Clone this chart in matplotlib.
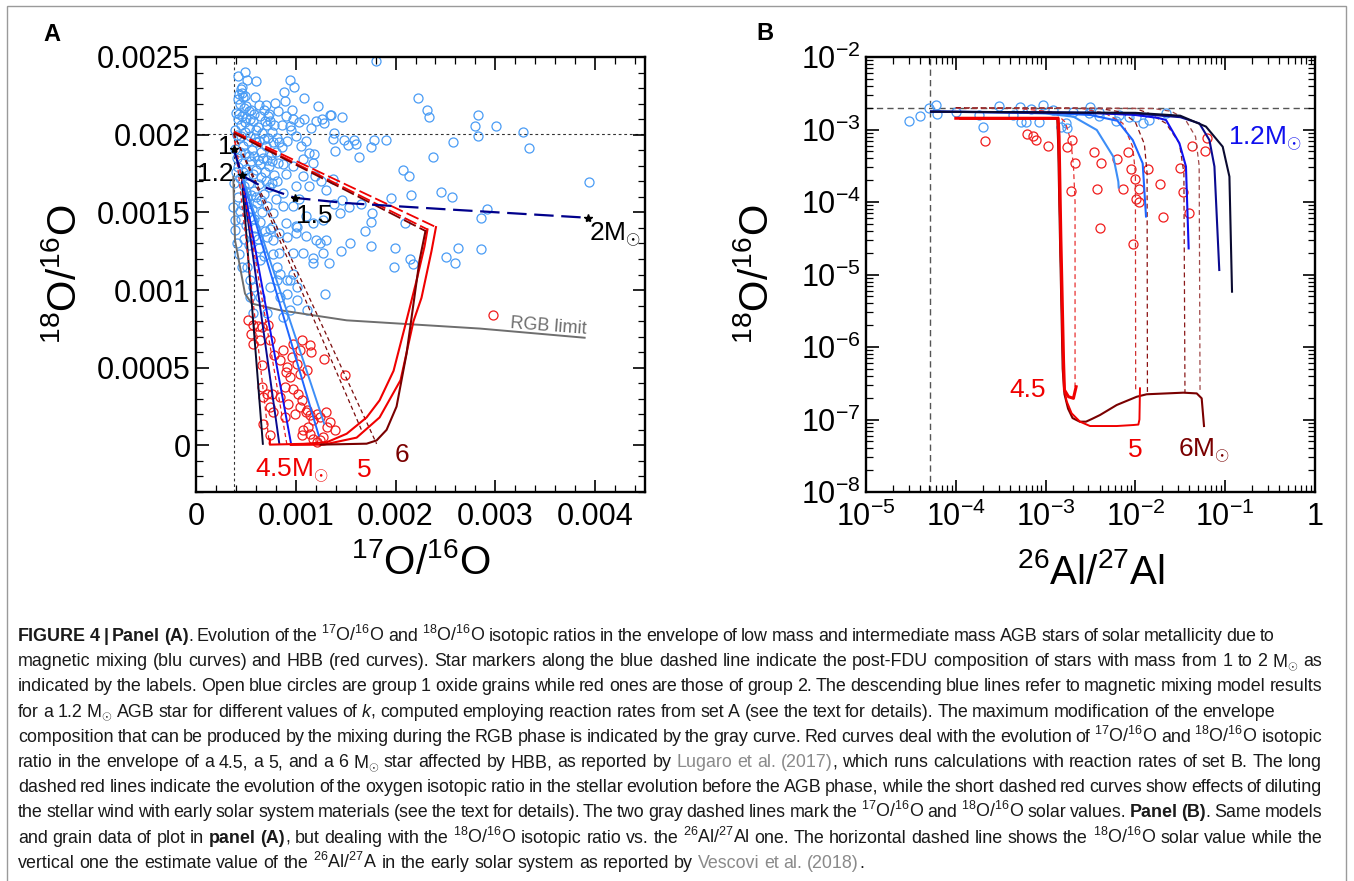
import numpy as np
import matplotlib
matplotlib.use("Agg")
import matplotlib.pyplot as plt
from matplotlib.ticker import MultipleLocator, FuncFormatter, LogLocator, NullFormatter
from matplotlib.patches import Rectangle

plt.rcParams['font.family'] = ['Liberation Sans', 'DejaVu Sans']
plt.rcParams['mathtext.fontset'] = 'custom'
plt.rcParams['mathtext.rm'] = 'Liberation Sans'
plt.rcParams['mathtext.it'] = 'Liberation Sans:italic'
plt.rcParams['mathtext.bf'] = 'Liberation Sans:bold'
plt.rcParams['lines.scale_dashes'] = False

# ---------------- panel A data (17O/16O, 18O/16O in units of 1e-4) ----------------
g1_a_x = [22.28, 23.18, 23.35, 14.66, 13.53, 28.26, 27.96, 28.26, 30.07, 32.74, 33.37, 13.86, 13.73,
          14.83, 15.27, 15.80, 16.07, 17.54, 17.87, 19.01, 13.96, 16.37, 25.76, 23.79, 20.75, 21.35,
          39.36, 21.55, 24.59, 25.66, 19.51, 29.16, 28.56, 14.66, 13.86, 15.36, 16.54, 14.46, 17.67,
          17.54, 16.97, 20.95, 14.53, 15.46, 17.57, 19.97, 19.87, 21.45, 21.71, 25.06, 26.26, 25.96,
          28.56, 18.0,
          4.88, 5.98, 9.45, 9.79, 8.85, 10.86, 7.05, 7.95, 8.92, 12.2, 13.43, 12.63, 12.86, 9.69, 9.42,
          7.22, 4.48, 4.58, 4.68, 4.94, 4.18, 5.01, 5.34,
          11.02, 10.52, 11.36, 11.86, 10.69, 11.69, 9.69, 8.69, 9.02, 10.69, 11.93, 12.53, 11.36, 13.03,
          13.7, 8.69, 8.02, 10.02, 7.69, 8.69, 9.69, 10.35, 11.02, 11.69, 12.7, 9.02, 10.02, 8.35, 7.69,
          10.02, 11.02, 12.03, 13.03, 8.35, 9.69, 10.69, 11.69, 13.36, 12.7,
          3.84, 3.74, 3.91, 3.91, 4.08, 4.34, 4.58, 5.08, 5.41, 5.74, 5.41, 6.41, 7.08, 7.75, 8.09, 8.42,
          9.09, 9.75, 10.09, 8.42, 9.09, 9.42, 8.75, 10.09, 11.09, 11.76, 12.43, 12.93, 9.42, 8.09, 7.42,
          6.41, 7.08, 5.74, 7.59, 9.09, 10.09,
          4.2, 4.5, 4.9, 5.3, 5.7, 6.2, 6.6, 7.1, 7.6, 8.1, 4.3, 4.7, 5.2, 5.6, 6.0, 6.5, 7.0, 7.5, 8.0,
          8.6, 9.1, 4.1, 4.6, 5.0, 5.5, 6.0, 6.4, 6.9, 7.3, 7.8, 4.4, 4.8, 5.3, 5.8, 6.3, 6.8, 7.3, 4.2,
          4.7, 5.1, 5.6, 6.1, 6.6, 7.1, 4.5, 5.0, 5.4, 5.9, 6.4, 6.9, 4.8, 5.3, 5.8, 6.3, 6.8, 3.9, 3.9,
          4.0, 8.6, 9.0, 9.5, 10.0, 10.3, 7.3, 6.8, 6.3, 5.5, 4.8, 4.4, 5.9, 4.3, 4.6, 5.1, 4.2, 8.2, 9.6,
          10.8, 11.5, 12.0,
          4.0, 4.3, 4.6, 5.0, 5.4, 5.8, 6.0, 6.4, 6.9, 7.4, 7.8, 4.1, 4.5, 4.9, 5.4, 5.9, 6.3, 6.8, 7.2,
          7.7, 8.3, 4.4, 4.9, 5.3, 5.8, 6.2, 6.7, 7.1, 7.6, 8.2, 4.2, 4.7, 5.2, 5.7, 6.5, 7.0, 7.6, 8.1,
          5.0, 5.5, 6.0, 6.5, 4.4, 5.2, 5.8, 6.2, 7.4]
g1_a_y = [22.34, 21.56, 21.13, 21.13, 21.24, 21.24, 20.53, 19.91, 20.53, 20.15, 19.14, 20.12, 19.70,
          19.65, 19.33, 19.65, 19.41, 19.22, 19.65, 19.65, 18.92, 18.54, 19.52, 18.54, 17.74, 17.33,
          16.93, 16.13, 16.32, 16.02, 15.93, 15.21, 14.61, 15.77, 15.55, 15.34, 15.55, 14.95, 14.95,
          14.41, 13.83, 14.32, 12.54, 13.03, 12.82, 12.71, 11.51, 12.00, 11.70, 12.11, 12.71, 11.73,
          12.63, 24.75,
          24.03, 23.45, 23.52, 23.05, 22.74, 22.34, 21.93, 22.04, 22.18, 21.84, 21.26, 20.99, 20.77,
          20.99, 20.55, 21.2, 22.96, 22.7, 22.42, 22.49, 22.27, 21.84, 21.52,
          19.59, 19.27, 18.79, 18.73, 18.41, 18.19, 17.98, 18.09, 17.44, 17.33, 17.33, 17.01, 16.69,
          16.47, 17.12, 16.26, 15.83, 16.69, 14.97, 15.4, 15.4, 15.83, 14.76, 14.32, 14.54, 14.32, 14.11,
          13.68, 13.25, 13.68, 13.47, 13.25, 13.25, 12.39, 12.39, 12.39, 12.07, 11.75, 12.39,
          16.86, 15.35, 14.5, 13.85, 13.0, 12.35, 11.49, 11.49, 10.63, 10.2, 9.56, 11.92, 13.42, 12.35,
          11.49, 11.06, 10.63, 11.06, 10.2, 9.56, 9.77, 8.7, 8.27, 9.34, 8.7, 11.71, 13.0, 9.77, 10.63,
          10.63, 10.2, 9.56, 8.49, 8.49, 14.07, 13.42, 14.07,
          21.0, 20.6, 20.8, 20.4, 20.9, 20.5, 20.1, 20.6, 20.2, 19.8, 19.8, 19.3, 19.6, 19.0, 19.5, 18.9,
          19.3, 18.7, 18.9, 19.2, 19.6, 18.5, 18.2, 17.8, 18.3, 17.7, 18.1, 17.6, 18.0, 17.4, 17.2, 16.7,
          16.9, 16.4, 16.8, 16.2, 16.6, 16.0, 15.5, 15.9, 15.2, 15.6, 15.0, 15.4, 14.6, 14.2, 14.7, 14.0,
          14.4, 13.8, 13.3, 12.9, 13.5, 12.7, 12.2, 20.3, 19.1, 17.6, 20.6, 21.2, 20.3, 19.9, 20.8, 21.3,
          21.6, 21.9, 21.6, 21.7, 22.0, 22.4, 22.6, 23.1, 23.5, 23.8, 21.5, 21.6, 21.0, 20.4, 20.9,
          21.4, 21.3, 21.2, 21.1, 21.0, 21.3, 20.3, 21.2, 20.9, 20.9, 20.6, 20.0, 19.9, 20.2, 19.9,
          19.8, 19.6, 19.7, 19.8, 19.5, 19.5, 18.9, 18.8, 18.6, 18.6, 18.4, 18.5, 18.4, 18.3, 18.2,
          17.9, 17.6, 17.4, 17.5, 17.3, 17.0, 16.9, 17.0, 16.3, 16.1, 16.0, 15.8, 15.1, 15.0, 14.6,
          13.3, 13.9]

g2_a_x = [5.24, 5.74, 5.51, 6.18, 6.58, 7.25, 6.41, 7.42, 7.82, 6.58, 6.58, 6.68, 7.08, 7.58, 7.42,
          7.75, 6.68, 7.42, 8.42, 8.75, 9.75, 10.42, 11.43, 11.49, 10.59, 9.59, 10.09, 9.09, 9.02, 9.42,
          10.42, 11.09, 8.42, 8.92, 9.75, 10.25, 10.59, 10.42, 11.09, 11.43, 12.09, 12.43, 11.76, 11.26,
          10.75, 10.59, 11.43, 11.76, 12.43, 12.09, 12.76, 13.1, 13.03, 13.43, 13.93, 12.83, 14.93, 9.25,
          9.92, 8.92, 11.02, 5.74, 29.8]
g2_a_y = [8.1, 7.73, 7.15, 7.69, 7.62, 7.73, 6.77, 6.77, 5.8, 5.15, 3.76, 3.11, 3.33, 3.33, 2.47,
          2.15, 1.4, 0.64, 3.11, 6.12, 6.55, 6.12, 6.44, 6.01, 6.77, 5.69, 5.26, 5.05, 4.72, 4.4, 4.62,
          4.83, 5.48, 3.76, 3.65, 3.33, 2.9, 2.47, 2.26, 1.93, 2.04, 1.82, 1.61, 1.18, 0.97, 0.64, 0.75,
          0.43, 0.32, 0.21, 0.53, 1.18, 2.15, 1.5, 0.97, 5.59, 4.51, 2.69, 2.04, 1.82, 2.15, 6.55, 8.4]

# post-FDU composition (blue dashed) and star masses
fdu_x = [3.78, 4.58, 6.5, 9.95, 15.0, 25.0, 39.32]
fdu_y = [19.05, 17.38, 16.7, 15.93, 15.6, 15.2, 14.65]
star_x = [3.78, 4.58, 9.95, 39.32]
star_y = [19.05, 17.38, 15.93, 14.65]

# RGB limit (gray)
rgb_x = [3.74, 3.8, 3.91, 4.41, 4.91, 5.58, 8.42, 15.1, 28.46, 38.95]
rgb_y = [17.29, 15.5, 13.21, 11.49, 9.77, 9.13, 8.70, 8.05, 7.52, 6.93]

# magnetic mixing, 1.2 Msun: start and end points of each k (darkest first)
mm_start = (4.58, 17.38)
mm_end_x = [6.7, 8.35, 9.5, 12.3, 12.85]
mm_end_y = [0.1, 0.1, 0.2, 0.64, 1.4]

# HBB models: long dashed pre-AGB part then solid AGB part
hbb45_pre_x = [3.8, 23.2]
hbb45_pre_y = [20.15, 13.9]
hbb45_x = [23.2, 22.9, 22.1, 21.0, 19.8, 18.4, 17.1, 15.1, 13.1, 10.8, 7.4, 7.4]
hbb45_y = [13.9, 12.8, 10.6, 7.8, 4.8, 2.9, 1.8, 0.75, 0.2, 0.1, 0.05, 0.4]
hbb5_pre_x = [3.8, 24.05]
hbb5_pre_y = [20.2, 14.05]
hbb5_x = [24.05, 23.6, 22.6, 21.8, 20.5, 18.4, 16.1, 12.8, 9.5]
hbb5_y = [14.05, 12.5, 9.5, 8.0, 4.2, 1.8, 0.5, 0.05, 0.03]
hbb6_pre_x = [3.8, 23.0]
hbb6_pre_y = [20.1, 13.8]
hbb6_x = [23.0, 22.4, 21.1, 20.1, 19.1, 18.1, 17.1, 12.5]
hbb6_y = [13.8, 11.9, 5.9, 2.5, 1.0, 0.32, 0.11, 0.05]

# dilution lines (short dashed) from solar to HBB end points
dil_a_end_x = [7.35, 9.1, 16.6, 18.1]
dil_a_end_y = [0.1, 0.1, 0.97, 0.1]
solar_o17 = 3.8
solar_o18 = 20.05

# ---------------- panel B data (log10 values) ----------------
g1_b_lal = [-4.525, -4.399, -4.302, -4.22, -4.209, -3.998, -3.7, -3.522, -3.282, -3.274, -3.163, -3.07,
            -3.032, -2.921, -2.773, -2.762, -2.828, -2.505, -2.52, -2.402, -2.216, -1.919, -1.845,
            -1.659, -2.402, -2.18, -2.068, -1.993, -2.698, -3.366, -3.738, -3.218]
g1_b_lo = [-2.879, -2.814, -2.699, -2.662, -2.791, -2.763, -2.961, -2.676, -2.694, -2.892, -2.721,
           -2.892, -2.662, -2.731, -2.906, -2.975, -2.961, -2.686, -2.777, -2.814, -2.879, -2.915,
           -2.869, -2.777, -2.754, -2.8, -2.823, -2.832, -2.754, -2.8, -2.8, -2.892]
g2_b_lal = [-3.675, -3.211, -3.137, -3.107, -2.977, -2.765, -2.703, -2.673, -2.72, -2.461, -2.383,
            -2.424, -2.394, -2.209, -2.142, -2.086, -2.053, -2.001, -1.96, -1.993, -1.96, -2.023,
            -1.856, -1.726, -1.696, -1.503, -1.467, -1.4, -1.367, -1.225, -1.199]
g2_b_lo = [-3.159, -3.067, -3.09, -3.145, -3.228, -3.237, -3.145, -3.466, -3.844, -3.306, -3.466,
           -3.825, -4.359, -3.411, -3.816, -3.315, -3.549, -3.683, -3.821, -3.963, -4.0, -4.584,
           -3.541, -3.748, -4.203, -3.531, -3.858, -4.152, -3.223, -3.292, -3.122]

# magnetic mixing curves (lightest to darkest)
mm_b = [
    ([-4.276, -3.5, -3.0, -2.69, -2.43, -2.246, -2.19, -2.186],
     [-2.754, -2.76, -2.78, -2.823, -3.007, -3.375, -3.72, -3.80]),
    ([-4.276, -3.0, -2.5, -2.2, -2.03, -1.919, -1.882],
     [-2.754, -2.77, -2.80, -2.88, -3.145, -3.466, -4.2]),
    ([-4.276, -2.5, -2.0, -1.75, -1.659, -1.51, -1.437, -1.407],
     [-2.754, -2.77, -2.80, -2.84, -2.869, -3.19, -3.51, -4.64]),
    ([-4.276, -2.0, -1.5, -1.288, -1.176, -1.12, -1.066],
     [-2.754, -2.78, -2.83, -2.915, -3.145, -3.51, -4.938]),
    ([-4.276, -2.0, -1.5, -1.214, -1.028, -0.953, -0.924],
     [-2.754, -2.77, -2.81, -2.96, -3.237, -3.65, -5.237]),
]

# HBB curves
hbb_b45_lal = [-4.0, -2.86, -2.85, -2.83, -2.80, -2.79, -2.745, -2.69, -2.66]
hbb_b45_lo = [-2.845, -2.845, -3.1, -4.5, -6.2, -6.593, -6.686, -6.708, -6.548]
hbb_b5_lal = [-3.95, -2.865, -2.855, -2.835, -2.805, -2.79, -2.765, -2.71, -2.617, -2.505, -2.208,
              -2.022, -1.967, -1.955, -1.949]
hbb_b5_lo = [-2.85, -2.85, -3.2, -4.5, -6.2, -6.6, -6.75, -6.915, -7.03, -7.09, -7.09, -7.076,
             -7.07, -7.0, -6.57]
hbb_b6_lal = [-3.95, -2.87, -2.86, -2.84, -2.81, -2.79, -2.75, -2.70, -2.62, -2.55, -2.48, -2.394,
              -2.208, -1.985, -1.874, -1.466, -1.317, -1.262, -1.236]
hbb_b6_lo = [-2.85, -2.85, -3.2, -4.5, -6.3, -6.65, -6.85, -6.98, -7.03, -7.03, -6.99, -6.938,
             -6.8, -6.686, -6.652, -6.63, -6.64, -6.708, -7.09]

# dilution curves
dil_b = [
    ([-4.0, -3.3, -2.9, -2.78, -2.72, -2.69, -2.672, -2.672], [-2.70, -2.71, -2.76, -2.90, -3.15, -3.5, -4.0, -6.55]),
    ([-4.0, -2.6, -2.33, -2.14, -2.03, -2.0, -1.997], [-2.70, -2.71, -2.78, -2.915, -3.237, -3.6, -6.62]),
    ([-4.0, -2.4, -2.15, -2.0, -1.9, -1.87, -1.866], [-2.70, -2.71, -2.76, -2.9, -3.2, -3.6, -6.65]),
    ([-3.9, -2.0, -1.845, -1.66, -1.51, -1.46, -1.448], [-2.70, -2.71, -2.78, -2.915, -3.19, -3.6, -6.63]),
    ([-3.9, -1.8, -1.6, -1.45, -1.33, -1.29, -1.28], [-2.70, -2.71, -2.75, -2.85, -3.1, -3.5, -6.64]),
]
solar_o18_b = 2.0e-3
ess_al = 5.2e-5

caption_lines = [
    "*FIGURE 4 | Panel (A)*. Evolution of the $^{17}$O/$^{16}$O and $^{18}$O/$^{16}$O isotopic ratios in the envelope of low mass and intermediate mass AGB stars of solar metallicity due to",
    "magnetic mixing (blu curves) and HBB (red curves). Star markers along the blue dashed line indicate the post-FDU composition of stars with mass from 1 to 2 M$_{\\odot}$ as",
    "indicated by the labels. Open blue circles are group 1 oxide grains while red ones are those of group 2. The descending blue lines refer to magnetic mixing model results",
    "for a 1.2 M$_{\\odot}$ AGB star for different values of #k#, computed employing reaction rates from set A (see the text for details). The maximum modification of the envelope",
    "composition that can be produced by the mixing during the RGB phase is indicated by the gray curve. Red curves deal with the evolution of $^{17}$O/$^{16}$O and $^{18}$O/$^{16}$O isotopic",
    "ratio in the envelope of a 4.5, a 5, and a 6 M$_{\\odot}$ star affected by HBB, as reported by ~Lugaro et al. (2017)~, which runs calculations with reaction rates of set B. The long",
    "dashed red lines indicate the evolution of the oxygen isotopic ratio in the stellar evolution before the AGB phase, while the short dashed red curves show effects of diluting",
    "the stellar wind with early solar system materials (see the text for details). The two gray dashed lines mark the $^{17}$O/$^{16}$O and $^{18}$O/$^{16}$O solar values. *Panel (B)*. Same models",
    "and grain data of plot in *panel (A)*, but dealing with the $^{18}$O/$^{16}$O isotopic ratio vs. the $^{26}$Al/$^{27}$Al one. The horizontal dashed line shows the $^{18}$O/$^{16}$O solar value while the",
    "vertical one the estimate value of the $^{26}$Al/$^{27}$A in the early solar system as reported by ~Vescovi et al. (2018)~.",
]
caption_right = [1275, 1322, 1322, 1275, 1322, 1322, 1322, 1322, 1322, None]

# ---------------- figure ----------------
W, H = 1354.0, 881.0
fig = plt.figure(figsize=(W / 100, H / 100), dpi=100)


def box(l, t, r, b):
    return [l / W, 1 - b / H, (r - l) / W, (b - t) / H]


axA = fig.add_axes(box(196, 57, 645, 492))
axB = fig.add_axes(box(866, 57, 1315, 492))

BLUE_PT = '#4a9cf5'
RED_PT = '#f01c1c'
MM_COLORS = ['#3d8ef7', '#1f66ff', '#1010ee', '#0a0a90', '#0a0a30']
s = 1e-4

# panel A
axA.plot(np.array(g1_a_x) * s, np.array(g1_a_y) * s, 'o', mfc='none', mec=BLUE_PT, ms=6.5, mew=0.9, ls='none', zorder=2)
axA.plot(np.array(g2_a_x) * s, np.array(g2_a_y) * s, 'o', mfc='none', mec=RED_PT, ms=6.5, mew=0.9, ls='none', zorder=2)
axA.axhline(solar_o18 * s, color='#333333', lw=0.8, dashes=(2, 2), zorder=1)
axA.axvline(solar_o17 * s, color='#333333', lw=0.8, dashes=(2, 2), zorder=1)

axA.plot(np.array(rgb_x) * s, np.array(rgb_y) * s, color='#6e6e6e', lw=1.4, zorder=3)
for ex, ey, c in zip(mm_end_x, mm_end_y, MM_COLORS[::-1]):
    axA.plot([mm_start[0] * s, ex * s], [mm_start[1] * s, ey * s], color=c, lw=1.4, zorder=4)
dil_cols = ['#e82020', '#e82020', '#7a0a0a', '#7a0a0a']
for ex, ey, c in zip(dil_a_end_x, dil_a_end_y, dil_cols):
    axA.plot([solar_o17 * s, ex * s], [solar_o18 * s, ey * s], color=c, lw=0.9, dashes=(3, 2.2), zorder=4)
for px, py, x, y, c in [(hbb45_pre_x, hbb45_pre_y, hbb45_x, hbb45_y, '#f00000'),
                        (hbb5_pre_x, hbb5_pre_y, hbb5_x, hbb5_y, '#f00000'),
                        (hbb6_pre_x, hbb6_pre_y, hbb6_x, hbb6_y, '#7a0000')]:
    axA.plot(np.array(px) * s, np.array(py) * s, color=c, lw=1.3, dashes=(9.5, 3), zorder=5)
    axA.plot(np.array(x) * s, np.array(y) * s, color=c, lw=1.5, zorder=5)
axA.plot(np.array(fdu_x) * s, np.array(fdu_y) * s, color='#00008b', lw=1.6, dashes=(14, 5.5), zorder=6)
axA.plot(np.array(star_x) * s, np.array(star_y) * s, '*', color='black', ms=6, ls='none', zorder=7)

lab = dict(fontsize=19, clip_on=False, va='baseline', ha='left')
axA.text(2.17 * s, 18.73 * s, '1', color='black', **lab)
axA.text(0.1 * s, 17.01 * s, '1.2', color='black', **lab)
axA.text(10.02 * s, 14.32 * s, '1.5', color='black', **lab)
axA.text(39.42 * s, 13.14 * s, '2M$_{\\odot}$', color='black', **lab)
axA.text(5.91 * s, -2.04 * s, '4.5M$_{\\odot}$', color='#f00000', **lab)
axA.text(16.1 * s, -2.04 * s, '5', color='#f00000', **lab)
axA.text(19.94 * s, -1.07 * s, '6', color='#7a0000', **lab)
axA.text(31.42 * s, 7.54 * s, 'RGB limit', color='#6e6e6e', fontsize=13, rotation=-4.4,
         rotation_mode='anchor', va='baseline', ha='left')

axA.set_xlim(0, 0.0045)
axA.set_ylim(-0.0003, 0.0025)
axA.xaxis.set_major_locator(MultipleLocator(0.001))
axA.xaxis.set_minor_locator(MultipleLocator(0.0002))
axA.yaxis.set_major_locator(MultipleLocator(0.0005))
axA.yaxis.set_minor_locator(MultipleLocator(0.0001))
lin_fmt = FuncFormatter(lambda v, p: '0' if abs(v) < 1e-12 else '%g' % round(v, 6))
axA.xaxis.set_major_formatter(lin_fmt)
axA.yaxis.set_major_formatter(lin_fmt)

# panel B
axB.set_xscale('log')
axB.set_yscale('log')
axB.plot(10 ** np.array(g1_b_lal), 10 ** np.array(g1_b_lo), 'o', mfc='none', mec=BLUE_PT, ms=6.5, mew=0.9, ls='none', zorder=2)
axB.plot(10 ** np.array(g2_b_lal), 10 ** np.array(g2_b_lo), 'o', mfc='none', mec=RED_PT, ms=6.5, mew=0.9, ls='none', zorder=2)
axB.axhline(solar_o18_b, color='#555555', lw=1.0, dashes=(4.5, 3), zorder=1)
axB.axvline(ess_al, color='#555555', lw=1.0, dashes=(4.5, 3), zorder=1)
dil_b_cols = ['#e83030', '#d03030', '#8b1010', '#8b1a1a', '#a04848']
for (lx, ly), c in zip(dil_b, dil_b_cols):
    axB.plot(10 ** np.array(lx), 10 ** np.array(ly), color=c, lw=0.9, dashes=(3.5, 2.5), zorder=3)
for (lx, ly), c in zip(mm_b, MM_COLORS):
    axB.plot(10 ** np.array(lx), 10 ** np.array(ly), color=c, lw=1.5, zorder=4)
axB.plot(10 ** np.array(hbb_b6_lal), 10 ** np.array(hbb_b6_lo), color='#7a0000', lw=1.5, zorder=5)
axB.plot(10 ** np.array(hbb_b5_lal), 10 ** np.array(hbb_b5_lo), color='#f00000', lw=1.4, zorder=5)
axB.plot(10 ** np.array(hbb_b45_lal), 10 ** np.array(hbb_b45_lo), color='#f00000', lw=2.2, zorder=5)

axB.text(0.107, 6.2e-4, '1.2M$_{\\odot}$', color='#1010ee', **lab)
axB.text(4.0e-4, 2.04e-7, '4.5', color='#f00000', **lab)
axB.text(8.3e-3, 3.07e-8, '5', color='#f00000', **lab)
axB.text(3.0e-2, 3.07e-8, '6M$_{\\odot}$', color='#7a0000', **lab)

axB.set_xlim(1e-5, 1)
axB.set_ylim(1e-8, 1e-2)
for axis in (axB.xaxis, axB.yaxis):
    axis.set_major_locator(LogLocator(base=10, numticks=20))
    axis.set_minor_locator(LogLocator(base=10, subs=np.arange(2, 10), numticks=100))
    axis.set_minor_formatter(NullFormatter())
log_fmt = FuncFormatter(lambda v, p: '1' if abs(np.log10(v)) < 1e-6 else r'$10^{%d}$' % int(round(np.log10(v))))
axB.xaxis.set_major_formatter(log_fmt)
axB.yaxis.set_major_formatter(log_fmt)

for ax in (axA, axB):
    for sp in ax.spines.values():
        sp.set_linewidth(1.7)
    ax.tick_params(which='both', direction='in', top=True, right=True, labelsize=22)
    ax.tick_params(which='major', length=9, width=1.2)
    ax.tick_params(which='minor', length=5, width=0.9)
    ax.tick_params(axis='y', pad=4)
    ax.tick_params(axis='x', pad=7)

axA.text(0.5, -0.163, '$^{17}$O/$^{16}$O', transform=axA.transAxes, ha='center', va='center', fontsize=29)
axA.text(-0.293, 0.5, '$^{18}$O/$^{16}$O', transform=axA.transAxes, ha='center', va='center', fontsize=29, rotation=90)
axB.text(0.5, -0.184, '$^{26}$Al/$^{27}$Al', transform=axB.transAxes, ha='center', va='center', fontsize=29)
axB.text(-0.243, 0.5, '$^{18}$O/$^{16}$O', transform=axB.transAxes, ha='center', va='center', fontsize=29, rotation=90)

fig.text(43 / W, 1 - 41 / H, 'A', fontsize=17, fontweight='bold', ha='left', va='baseline')
fig.text(756 / W, 1 - 40 / H, 'B', fontsize=17, fontweight='bold', ha='left', va='baseline')

# frame around the figure
fig.patches.append(Rectangle((7 / W, -0.02), (1346 - 7) / W, 1 - 6 / H + 0.02, transform=fig.transFigure,
                             fill=False, ec='#9a9a9a', lw=1.0))

# ---------------- caption, word-justified ----------------
renderer = fig.canvas.get_renderer()
cap_fs = 12.9
space_px = 0.27 * cap_fs * 100 / 72
for i, line in enumerate(caption_lines):
    state = {'b': False, 'g': False, 'i': False}
    words = []
    for w in line.split(' '):
        pieces, buf = [], ''
        for ch in w:
            if ch in '*~#':
                if buf:
                    pieces.append((buf, dict(state)))
                buf = ''
                k = {'*': 'b', '~': 'g', '#': 'i'}[ch]
                state[k] = not state[k]
            else:
                buf += ch
        if buf:
            pieces.append((buf, dict(state)))
        objs = []
        for txt, st in pieces:
            t = fig.text(0, 0, txt, fontsize=cap_fs, ha='left', va='baseline',
                         fontweight='bold' if st['b'] else 'normal',
                         style='italic' if st['i'] else 'normal',
                         color='#8a8a8a' if st['g'] else '#1a1a1a')
            objs.append((t, t.get_window_extent(renderer).width))
        words.append(objs)
    total = sum(wd for w in words for _, wd in w)
    x0 = 18.0
    if caption_right[i] is not None and len(words) > 1:
        gap = max((caption_right[i] - x0 - total) / (len(words) - 1), 2.0)
    else:
        gap = space_px
    y = 641 + 25.2 * i
    x = x0
    for w in words:
        for t, wd in w:
            t.set_position((x / W, 1 - y / H))
            x += wd
        x += gap

fig.savefig('out.png', dpi=100)
